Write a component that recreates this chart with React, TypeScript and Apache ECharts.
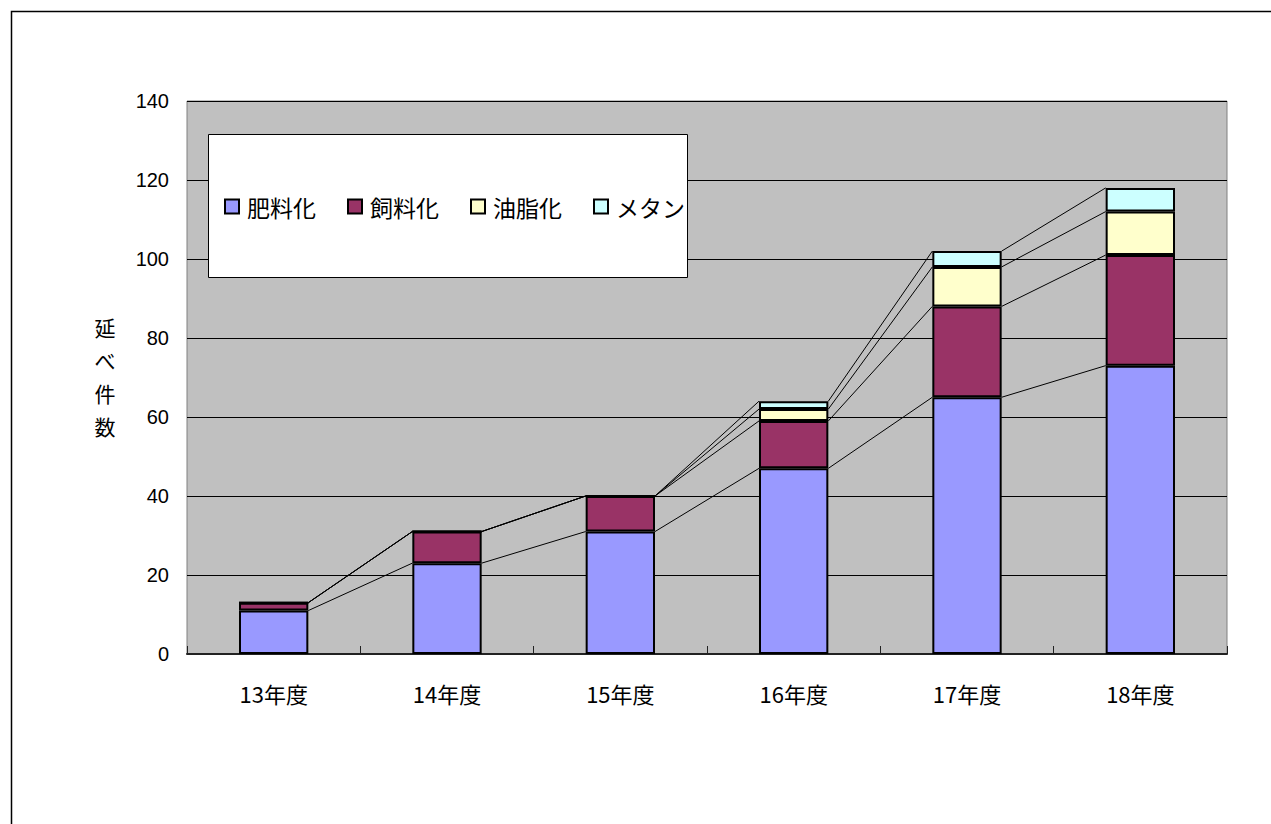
import React, { useEffect, useRef } from "react";
import * as echarts from "echarts";

const categories = ["13年度", "14年度", "15年度", "16年度", "17年度", "18年度"];
const seriesNames = ["肥料化", "飼料化", "油脂化", "メタン"];
const fertilizer = [11, 23, 31, 47, 65, 73];
const feed = [2, 8, 9, 12, 23, 28];
const oil = [0, 0, 0, 3, 10, 11];
const methane = [0, 0, 0, 2, 4, 6];
const colors = ["#9999FF", "#993366", "#FFFFCC", "#CCFFFF"];
const yTicks = { min: 0, max: 140, interval: 20 };

export default function App() {
  const ref = useRef<HTMLDivElement>(null);
  useEffect(() => {
    document.body.style.margin = "0";
    const chart = echarts.init(ref.current!, undefined, { renderer: "svg" });
    const values = [fertilizer, feed, oil, methane];
    const cum: number[][] = [];
    values.forEach((arr, s) => {
      cum.push(arr.map((v, i) => v + (s > 0 ? cum[s - 1][i] : 0)));
    });
    const lineData: number[][] = [];
    cum.forEach((c) => {
      for (let i = 0; i < c.length - 1; i++) lineData.push([i, c[i], c[i + 1]]);
    });
    const font = "'Noto Sans CJK JP', sans-serif";
    chart.setOption({
      animation: false,
      backgroundColor: "#fff",
      grid: {
        left: 187,
        top: 101,
        right: 44,
        bottom: 170,
        show: true,
        backgroundColor: "#C0C0C0",
        borderColor: "#808080",
        borderWidth: 1,
      },
      legend: {
        data: seriesNames,
        left: 219,
        top: 190,
        icon: "rect",
        itemWidth: 14,
        itemHeight: 14,
        itemGap: 31,
        selectedMode: false,
        z: 10,
        itemStyle: { borderColor: "#000", borderWidth: 2 },
        textStyle: { fontSize: 23, fontFamily: font, color: "#000", padding: [0, 0, 0, 3] },
      },
      graphic: [
        {
          type: "rect",
          z: 5,
          shape: { x: 208.5, y: 134.5, width: 479, height: 143 },
          style: { fill: "#fff", stroke: "#000", lineWidth: 1 },
        },
        {
          type: "rect",
          z: -10,
          shape: { x: 11.5, y: 11.5, width: 1400, height: 1000 },
          style: { fill: "none", stroke: "#000", lineWidth: 1.5 },
        },
        {
          type: "text",
          x: 105,
          y: 376,
          style: {
            text: "延\nべ\n件\n数",
            fontSize: 21,
            lineHeight: 33,
            fontFamily: font,
            fill: "#000",
            align: "center",
            verticalAlign: "middle",
          },
        },
      ],
      xAxis: {
        type: "category",
        data: categories,
        axisLine: { show: true, lineStyle: { color: "#222", width: 2 } },
        axisTick: { show: true, inside: true, length: 8, lineStyle: { color: "#222", width: 1 } },
        axisLabel: { fontSize: 22, fontFamily: font, color: "#000", margin: 28 },
        splitLine: { show: false },
      },
      yAxis: {
        type: "value",
        min: yTicks.min,
        max: yTicks.max,
        interval: yTicks.interval,
        axisLine: { show: false },
        axisTick: { show: false },
        axisLabel: { fontSize: 20, fontFamily: "'Liberation Sans', Arial, sans-serif", color: "#000", margin: 18 },
        splitLine: { show: true, lineStyle: { color: "#000", width: 1 } },
      },
      series: [
        ...values.map((arr, s) => ({
          name: seriesNames[s],
          type: "bar",
          stack: "total",
          barWidth: "40%",
          data: arr,
          itemStyle: { color: colors[s], borderColor: "#000", borderWidth: 2 },
          z: 3,
        })),
        {
          type: "custom",
          name: "seriesLines",
          data: lineData,
          encode: { x: 0, y: [1, 2] },
          z: 2,
          silent: true,
          renderItem: (params: any, api: any) => {
            const i = api.value(0);
            const p0 = api.coord([i, api.value(1)]);
            const p1 = api.coord([i + 1, api.value(2)]);
            const hw = api.size([1, 0])[0] * 0.2;
            return {
              type: "line",
              shape: { x1: p0[0] + hw, y1: p0[1], x2: p1[0] - hw, y2: p1[1] },
              style: { stroke: "#000", lineWidth: 1 },
            };
          },
        },
      ],
    });
    return () => chart.dispose();
  }, []);
  return <div ref={ref} style={{ width: 1271, height: 824 }} />;
}
